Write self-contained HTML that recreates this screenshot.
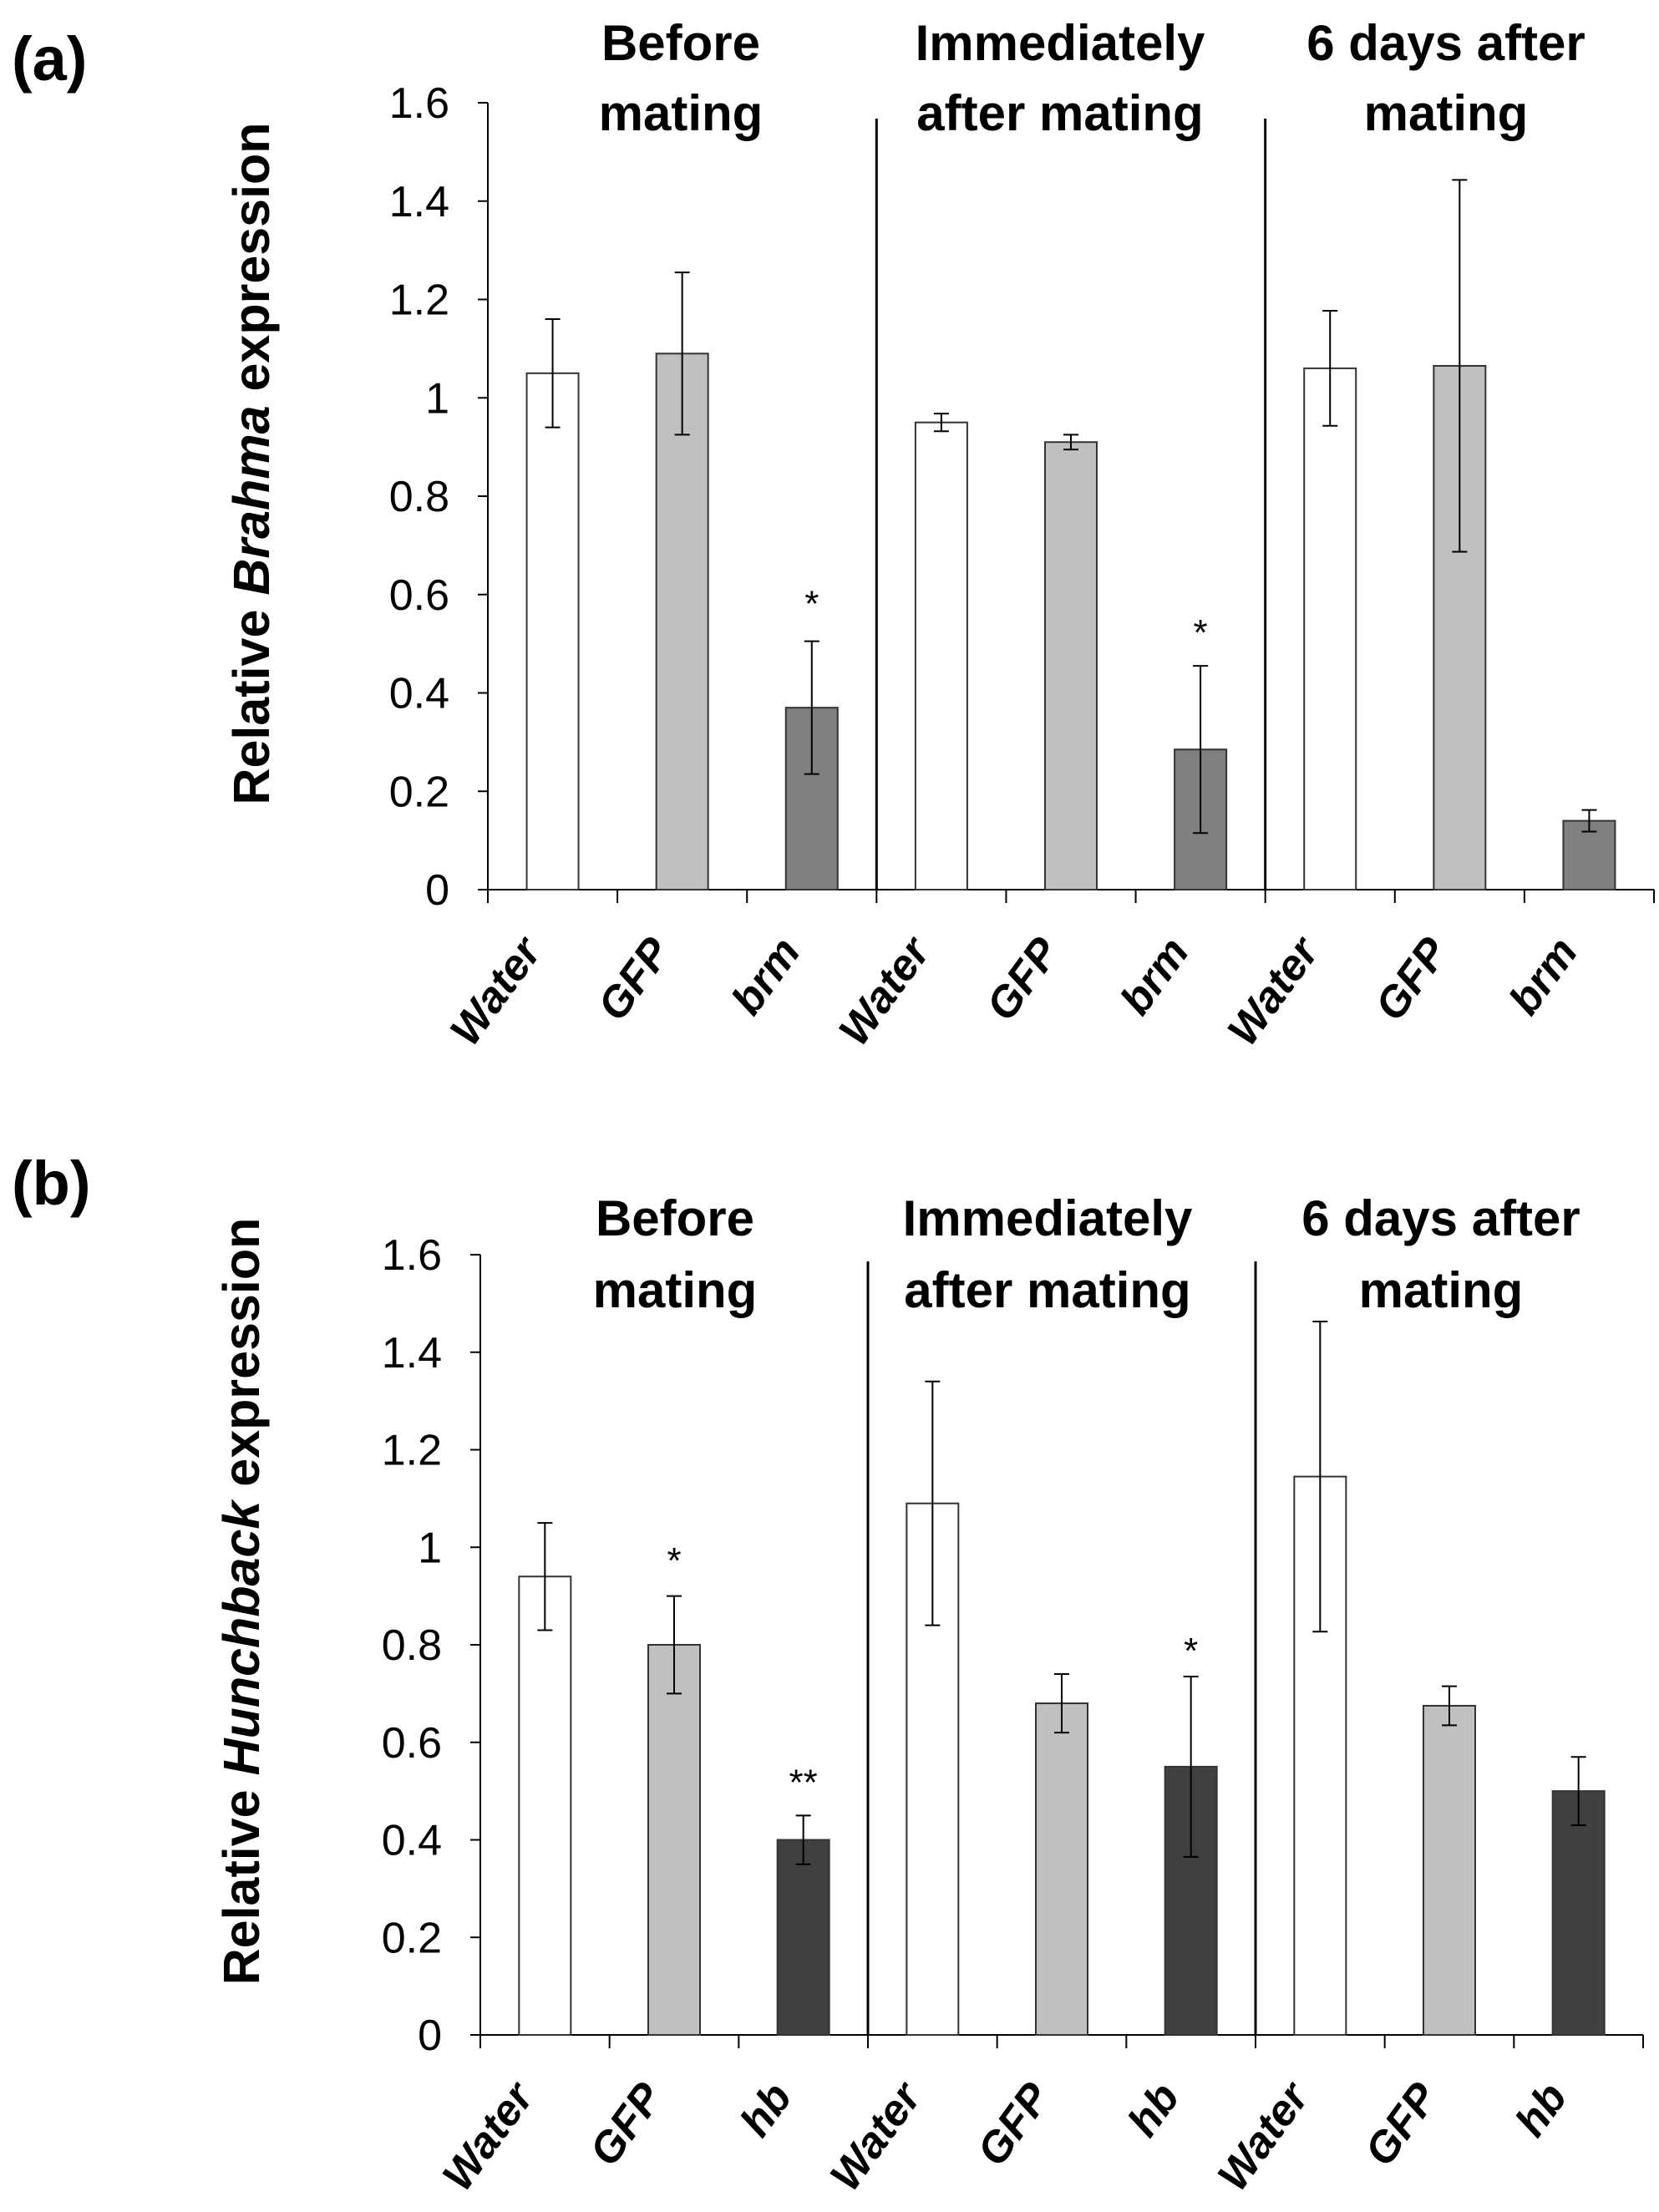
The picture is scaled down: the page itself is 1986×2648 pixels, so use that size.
<!DOCTYPE html>
<html><head><meta charset="utf-8"><style>
html,body{margin:0;padding:0;background:#fff;}
svg{display:block;font-family:"Liberation Sans",sans-serif;}
</style></head><body>
<svg id="svg" width="1986" height="2648" viewBox="0 0 1986 2648" xmlns="http://www.w3.org/2000/svg"></svg>
<script>
const NS="http://www.w3.org/2000/svg";
const yTicks=[0,0.2,0.4,0.6,0.8,1,1.2,1.4,1.6];
const tickLabels=["0","0.2","0.4","0.6","0.8","1","1.2","1.4","1.6"];
const groupTitles=[["Before","mating"],["Immediately","after mating"],["6 days after","mating"]];
const catsA=["Water","GFP","brm","Water","GFP","brm","Water","GFP","brm"];
const valsA=[1.05,1.09,0.37,0.95,0.91,0.285,1.06,1.065,0.14];
const errsA=[0.11,0.165,0.135,0.018,0.015,0.17,0.117,0.378,0.022];
const starsA=[null,null,"*",null,null,"*",null,null,null];
const starYA=[0,0,0.594,0,0,0.535,0,0,0];
const catsB=["Water","GFP","hb","Water","GFP","hb","Water","GFP","hb"];
const valsB=[0.94,0.80,0.40,1.09,0.68,0.55,1.145,0.675,0.50];
const errsB=[0.11,0.10,0.05,0.25,0.06,0.185,0.318,0.04,0.07];
const starsB=[null,"*","**",null,null,"*",null,null,null];
const starYB=[0,0.985,0.53,0,0,0.80,0,0,0];

const svg=document.getElementById('svg');
function mk(tag,attrs,parent,text){const e=document.createElementNS(NS,tag);for(const k in attrs)e.setAttribute(k,attrs[k]);if(text!==undefined)e.textContent=text;(parent||svg).appendChild(e);return e;}

function chart(cfg){
  const g=mk('g',{});
  
  
  const x0=cfg.x0,x1=cfg.x1,yb=cfg.y0,yt=cfg.y16;
  const y=v=>yb-(v/1.6)*(yb-yt);
  const cw=(x1-x0)/cfg.cats.length;
  const colors=["#ffffff","#c0c0c0",cfg.dark];
  const ax=mk('line',{x1:x0,y1:yt,x2:x0,y2:yb,stroke:"#000","stroke-width":2},g);
  
  yTicks.forEach((t,i)=>{
    mk('line',{x1:x0-12,y1:y(t),x2:x0,y2:y(t),stroke:"#000","stroke-width":2},g);
    const tl=mk('text',{x:x0-46,y:y(t)+18,"text-anchor":"end","font-size":52,fill:"#000"},g,tickLabels[i]);
    
  });
  const xa=mk('line',{x1:x0,y1:yb,x2:x1,y2:yb,stroke:"#000","stroke-width":2},g);
  
  for(let i=0;i<=cfg.cats.length;i++){mk('line',{x1:x0+i*cw,y1:yb,x2:x0+i*cw,y2:yb+16,stroke:"#000","stroke-width":2},g);}
  [3,6].forEach(k=>{const s=mk('line',{x1:x0+k*cw,y1:cfg.sepTop,x2:x0+k*cw,y2:yb,stroke:"#000","stroke-width":3},g);
    });
  cfg.cats.forEach((c,i)=>{
    const cx=x0+(i+0.5)*cw,bw=62,v=cfg.vals[i],e=cfg.errs[i];
    const r=mk('rect',{x:cx-bw/2,y:y(v),width:bw,height:yb-y(v),fill:colors[i%3],stroke:"#333","stroke-width":2},g);
    
    
    const eg=mk('g',{stroke:"#000","stroke-width":2},g);
    
    mk('line',{x1:cx,y1:y(v+e),x2:cx,y2:y(v-e)},eg);
    mk('line',{x1:cx-9,y1:y(v+e),x2:cx+9,y2:y(v+e)},eg);
    mk('line',{x1:cx-9,y1:y(v-e),x2:cx+9,y2:y(v-e)},eg);
    if(cfg.stars[i]){const st=mk('text',{x:cx,y:y(cfg.starY[i])+22,"text-anchor":"middle","font-size":44,fill:"#000"},g,cfg.stars[i]);
      }
    const lx=cx-12,ly=yb+74;
    const xl=mk('text',{x:lx,y:ly,"text-anchor":"end","font-size":52,"font-weight":"bold","font-style":"italic",transform:`rotate(-54 ${lx} ${ly})`},g,c);
    
  });
  groupTitles.forEach((t,k)=>{
    const tx=cfg.titleX[k];
    t.forEach((line,j)=>{const tt=mk('text',{x:tx,y:cfg.titleY[j],"text-anchor":"middle","font-size":60,"font-weight":"bold"},g,line);
      });
  });
  const yt2=mk('text',{x:cfg.ytX,y:cfg.ytY,"text-anchor":"middle","font-size":61,"font-weight":"bold",transform:`rotate(-90 ${cfg.ytX} ${cfg.ytY})`},g);
  
  mk('tspan',{},yt2,"Relative ");mk('tspan',{"font-style":"italic"},yt2,cfg.gene);mk('tspan',{},yt2," expression");
  const pl=mk('text',{x:14,y:cfg.panelY,"font-size":74,"font-weight":"bold"},g,cfg.panel);
  
}
chart({name:'chart-a-brahma',x0:584,x1:1980,y0:1065,y16:123,sepTop:142,cats:catsA,vals:valsA,errs:errsA,stars:starsA,starY:starYA,dark:"#808080",
  titleX:[815,1269,1731],titleY:[72,156],ytX:322,ytY:555,gene:"Brahma",panel:"(a)",panelY:96});
chart({name:'chart-b-hunchback',x0:575,x1:1967,y0:2436,y16:1502,sepTop:1510,cats:catsB,vals:valsB,errs:errsB,stars:starsB,starY:starYB,dark:"#404040",
  titleX:[808,1254,1725],titleY:[1479,1565],ytX:310,ytY:1917,gene:"Hunchback",panel:"(b)",panelY:1442});
</script>
</body></html>
